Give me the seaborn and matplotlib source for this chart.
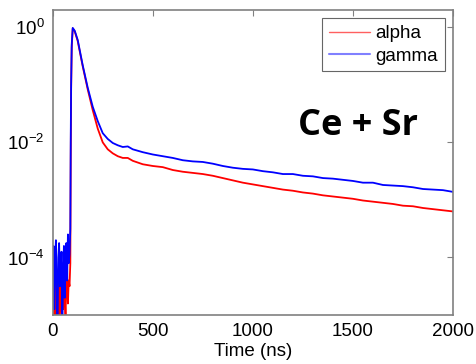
import numpy as np
import pandas as pd
import matplotlib
matplotlib.use("Agg")
import matplotlib.pyplot as plt
from matplotlib.lines import Line2D
import seaborn as sns

# ---- data (log10 of normalised intensity) ----
t_pre = [0, 4, 8, 12, 16, 20, 24, 28, 32, 36, 40, 44, 48, 52, 56, 60, 64, 68, 72, 76, 80, 84, 88]
gamma_pre = [-4.3, -3.8, -4.9, -4.1, -3.7, -4.6, -5.3, -4.0, -3.75, -4.5, -4.2, -3.9,
             -5.2, -4.3, -3.8, -4.7, -4.0, -3.75, -4.4, -3.6, -4.1, -3.95, -3.5]
alpha_pre = [-5.3, -4.6, -5.2, -4.9, -4.4, -5.3, -4.8, -4.3, -5.1, -4.6, -4.4, -5.3,
             -4.7, -4.9, -4.3, -4.7, -5.0, -4.5, -4.2, -4.8, -4.4, -4.5, -4.1]

t_rise = [90, 92, 95, 100, 110, 125, 150, 175, 200, 225, 250, 275, 300, 325, 350, 375]
gamma_rise = [-2.0, -1.0, -0.3, -0.01, -0.06, -0.22, -0.66, -1.05, -1.38, -1.63, -1.84,
              -1.94, -2.01, -2.05, -2.08, -2.07]
alpha_rise = [-2.3, -1.1, -0.35, -0.02, -0.07, -0.24, -0.68, -1.08, -1.44, -1.76, -2.0,
              -2.12, -2.19, -2.24, -2.27, -2.27]

t_tail = [400, 450, 500, 550, 600, 650, 700, 750, 800, 850, 900, 950, 1000, 1050, 1100,
          1150, 1200, 1250, 1300, 1350, 1400, 1450, 1500, 1550, 1600, 1650, 1700, 1750,
          1800, 1850, 1900, 1950, 2000]
gamma_tail = [-2.12, -2.17, -2.21, -2.24, -2.27, -2.31, -2.33, -2.34, -2.37, -2.41, -2.44,
              -2.46, -2.47, -2.50, -2.52, -2.55, -2.55, -2.58, -2.59, -2.62, -2.63, -2.65,
              -2.67, -2.70, -2.70, -2.74, -2.75, -2.76, -2.78, -2.81, -2.82, -2.83, -2.86]
alpha_tail = [-2.32, -2.38, -2.41, -2.43, -2.48, -2.51, -2.53, -2.55, -2.58, -2.62, -2.66,
              -2.70, -2.73, -2.76, -2.79, -2.82, -2.84, -2.87, -2.89, -2.92, -2.94, -2.96,
              -2.98, -3.01, -3.03, -3.05, -3.07, -3.10, -3.11, -3.14, -3.16, -3.18, -3.20]

series_names = ["alpha", "gamma"]
x_ticks = [0, 500, 1000, 1500, 2000]
y_ticks = [1e-4, 1e-2, 1e0]

t_all = t_pre + t_rise + t_tail
df = pd.DataFrame({
    "t": t_all * 2,
    "value": 10.0 ** np.array(alpha_pre + alpha_rise + alpha_tail + gamma_pre + gamma_rise + gamma_tail),
    "series": ["alpha"] * len(t_all) + ["gamma"] * len(t_all),
})

sns.set_style("white")
plt.rcParams["font.family"] = ["Liberation Sans", "DejaVu Sans"]
plt.rcParams["mathtext.fontset"] = "custom"
plt.rcParams["mathtext.rm"] = "Liberation Sans"
plt.rcParams["mathtext.it"] = "Liberation Sans"
plt.rcParams["text.color"] = "black"
plt.rcParams["axes.labelcolor"] = "black"
plt.rcParams["xtick.color"] = "black"
plt.rcParams["ytick.color"] = "black"

fig = plt.figure(figsize=(4.77, 3.64), dpi=100)
ax = fig.add_axes([0.1105, 0.1346, 0.8392, 0.8379])

palette = {"alpha": "#ff0000", "gamma": "#0000ff"}
for name in ["alpha", "gamma"]:
    sub = df[df["series"] == name]
    sns.lineplot(data=sub, x="t", y="value", color=palette[name], lw=1.3,
                 ax=ax, sort=False, estimator=None, legend=False)

ax.set_yscale("log")
ax.set_xlim(0, 2000)
ax.set_ylim(1e-5, 2)
ax.set_xticks(x_ticks)
ax.set_xticklabels([str(v) for v in x_ticks])
ax.set_yticks(y_ticks)
ax.set_yticklabels([r"$10^{-4}$", r"$10^{-2}$", r"$10^{0}$"])
ax.yaxis.set_minor_locator(matplotlib.ticker.NullLocator())
ax.tick_params(axis="both", which="major", direction="in", length=4, width=0.8,
               color="#808080", labelcolor="black", top=True, right=True,
               labelsize=13.5, pad=6)
for s in ax.spines.values():
    s.set_color("#808080")
    s.set_linewidth(1.2)

ax.set_xlabel("Time (ns)", fontsize=13.5, labelpad=2, color="black")
ax.set_ylabel("")

handles = [Line2D([], [], color="#ff6060", lw=1.0), Line2D([], [], color="#8080ff", lw=1.5)]
leg = ax.legend(handles, series_names, loc="upper right", fontsize=13.5, frameon=True,
                fancybox=False, borderaxespad=0.45, handlelength=2.2, handletextpad=0.3,
                borderpad=0.35, labelspacing=0.3)
leg.get_frame().set_edgecolor("#404040")
leg.get_frame().set_linewidth(0.8)
for txt in leg.get_texts():
    txt.set_color("black")

ax.text(1226, 10 ** -1.87, "Ce + Sr", fontsize=26, fontweight="bold", color="black",
        family=["Open Sans", "DejaVu Sans"], va="baseline", ha="left")

fig.savefig("out.png", dpi=100)
